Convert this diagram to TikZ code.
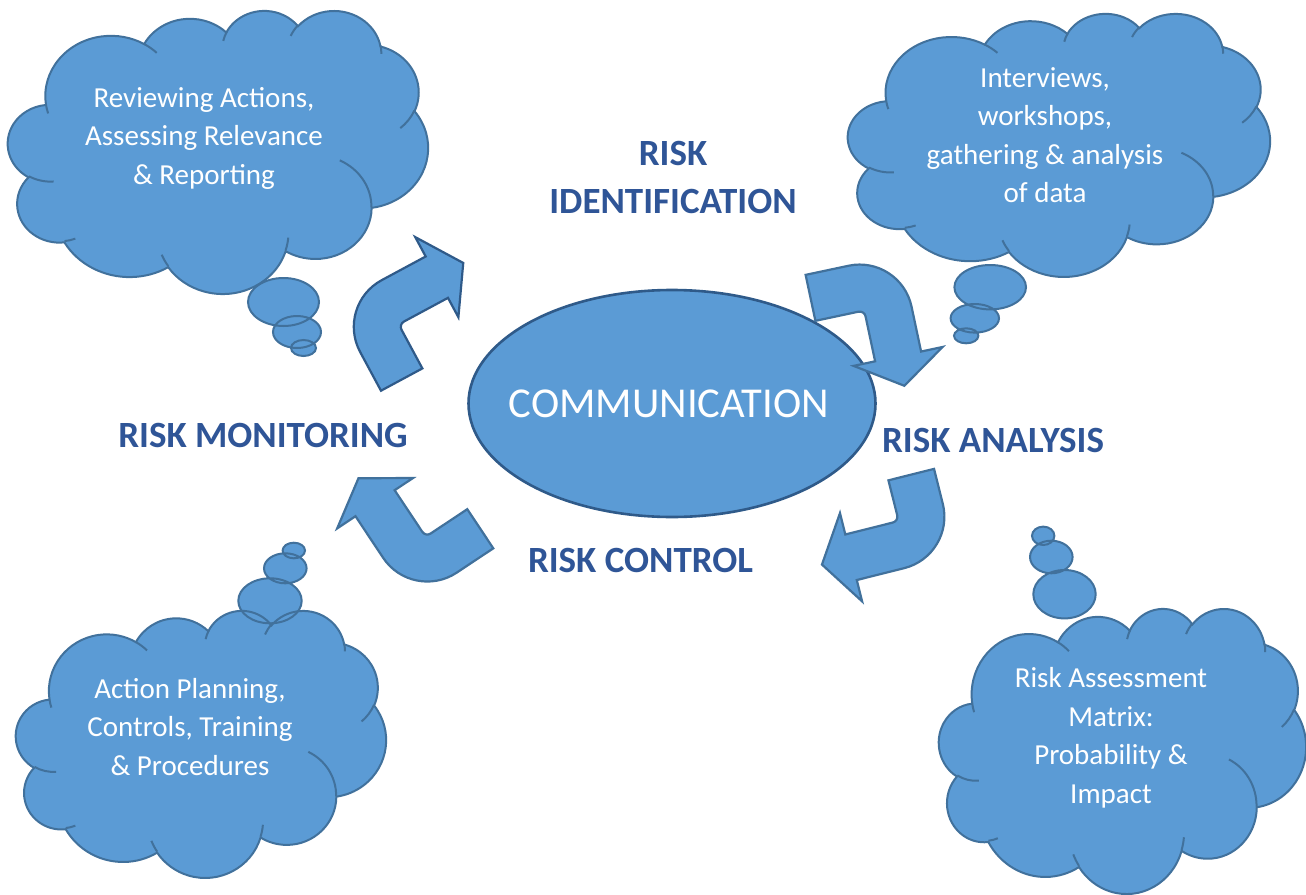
\documentclass[tikz,border=0pt]{standalone}
\usepackage{fontspec}
\usetikzlibrary{shapes.geometric}
\setmainfont{Carlito}
\definecolor{shapefill}{HTML}{5B9BD5}
\definecolor{shapeline}{HTML}{41719C}
\definecolor{deepline}{HTML}{2F5A89}
\definecolor{titleblue}{HTML}{2F5597}

% One elliptical arc of the cloud outline. The angles are directions seen
% from the centre (in degrees); they are turned into parametric angles here.
\newcommand\cloudarc[4]{%
  \pgfextra{%
    \pgfmathsetmacro\cloudstart{atan2((#1)*sin(#3),(#2)*cos(#3))}%
    \pgfmathsetmacro\cloudend{atan2((#1)*sin((#3)+(#4)),(#2)*cos((#3)+(#4)))}%
    \pgfmathsetmacro\cloudend{\cloudend<\cloudstart ? \cloudend+360 : \cloudend}%
    \xdef\cloudstartangle{\cloudstart}\xdef\cloudendangle{\cloudend}%
  }%
  arc[x radius=#1, y radius=#2, start angle=\cloudstartangle, end angle=\cloudendangle]}

% cloud outline in a 432 x 432 box, y pointing down
\newcommand\cloudmain{(39,143.70)
  \cloudarc{67.53}{91.90}{-190.48748}{123.78053}
  \cloudarc{53.33}{72.67}{-144.10238}{89.94523}
  \cloudarc{43.65}{59.45}{-145.80792}{99.72302}
  \cloudarc{48.57}{65.95}{-130.98607}{117.24173}
  \cloudarc{53.33}{72.73}{-78.70888}{109.02692}
  \cloudarc{67.75}{92.20}{-46.26725}{130.269}
  \cloudarc{57.85}{78.67}{0.62502}{114.03333}
  \cloudarc{67.52}{92.15}{22.4516}{115.17255}
  \cloudarc{77.20}{105.43}{66.24263}{75.71102}
  \cloudarc{43.60}{59.18}{-274.94208}{146.73557}
  \cloudarc{43.45}{59.45}{-246.8285}{152.51885}
  -- cycle}

% the short inner arcs between the puffs
\newcommand\cloudinner{%
  (46.93,261.77) \cloudarc{43.45}{59.45}{86.742}{26.4295}
  (69.28,348.99) \cloudarc{43.60}{59.18}{73.61047}{11.44747}
  (164.78,390.90) \cloudarc{67.52}{92.15}{137.62415}{14.0811}
  (288.27,347.51) \cloudarc{67.52}{92.15}{6.45327}{15.99835}
  (341.29,229.54) \cloudarc{57.85}{78.67}{-70.29235}{70.91737}
  (417.98,153.54) \cloudarc{53.33}{72.73}{30.31803}{27.7515}
  (383.24,54.26) \cloudarc{48.57}{65.95}{-13.74433}{14.8589}
  (290.78,39.52) \cloudarc{48.57}{65.95}{-149.18145}{18.19537}
  (221.41,47.20) \cloudarc{43.65}{59.45}{-163.49427}{17.68635}
  (140.00,51.92) \cloudarc{67.53}{91.90}{-66.70695}{12.31935}
  (41.27,157.89) \cloudarc{67.53}{91.90}{157.65435}{11.85817}}

\tikzset{
  cloudbg/.style={fill=shapefill},
  cloudedge/.style={draw=shapeline, line width=2pt},
  arrowbody/.style={fill=shapefill, draw=#1, line width=2.2pt, line join=miter},
  arrowbody/.default=shapeline,
  steplabel/.style={font=\bfseries\fontsize{37}{48}\selectfont, text=titleblue,
    inner sep=0pt, align=center},
  cloudtext/.style={font=\fontsize{29}{38.5}\selectfont, text=white,
    inner sep=0pt, align=center},
}

% cloud body: x, y of the top left corner, width, height
\newcommand\cloudfill[4]{%
  \begin{scope}[shift={(#1,#2)}, xscale=#3/432, yscale=#4/432]
    \fill[cloudbg] \cloudmain;
  \end{scope}}
\newcommand\cloudline[4]{%
  \begin{scope}[shift={(#1,#2)}, xscale=#3/432, yscale=#4/432]
    \draw[cloudedge] \cloudmain;
    \draw[cloudedge] \cloudinner;
  \end{scope}}

% bent arrow: origin x, origin y, rotation, tail length, head position, line colour
\newcommand\bentarrow[6]{%
  \begin{scope}[shift={(#1,#2)}, rotate=#3]
    \filldraw[arrowbody=#6] (0,#4) -- (47,#4) -- (47,53)
      arc[start angle=180, end angle=270, radius=6] -- (#5,47) -- (#5,69)
      -- ({#5+30},23.5) -- (#5,-22) -- (#5,0) -- (53,0)
      arc[start angle=270, end angle=180, radius=53] -- cycle;
  \end{scope}}

% thought bubbles of each cloud
\def\tailreview{(283.5,302) ellipse [x radius=35.5, y radius=24]
  (297,332) ellipse [x radius=24, y radius=16]
  (303.5,348) ellipse [x radius=12.5, y radius=8]}
\def\tailinterview{(990.2,287.2) ellipse [x radius=35.8, y radius=22.2]
  (974.8,318.3) ellipse [x radius=24.2, y radius=14.3]
  (966.2,335.8) ellipse [x radius=12.2, y radius=7.5]}
\def\tailaction{(270,600.8) ellipse [x radius=31.7, y radius=22.5]
  (285.3,568.3) ellipse [x radius=21.3, y radius=15]
  (293.8,550.5) ellipse [x radius=11.2, y radius=7.8]}
\def\tailmatrix{(1064.5,594.2) ellipse [x radius=31.2, y radius=24.2]
  (1051.3,557) ellipse [x radius=21.3, y radius=16.3]
  (1043.2,535.8) ellipse [x radius=11.2, y radius=9.2]}

\begin{document}
\begin{tikzpicture}[x=1pt, y=-1pt]
\useasboundingbox[fill=white] (0,0) rectangle (1306,894);

% thought clouds
\cloudfill{8}{10}{420}{283}
\fill[cloudbg] \tailreview;
\cloudline{8}{10}{420}{283}
\draw[cloudedge] \tailreview;

\cloudfill{848}{13}{422}{263}
\fill[cloudbg] \tailinterview;
\cloudline{848}{13}{422}{263}
\draw[cloudedge] \tailinterview;

\cloudfill{16}{610}{370}{267}
\fill[cloudbg] \tailaction;
\cloudline{16}{610}{370}{267}
\draw[cloudedge] \tailaction;

\cloudfill{939}{608}{367}{285}
\fill[cloudbg] \tailmatrix;
\cloudline{939}{608}{367}{285}
\draw[cloudedge] \tailmatrix;

% centre
\node[ellipse, draw=deepline, line width=2.6pt, fill=shapefill,
  minimum width=407pt, minimum height=227pt, inner sep=0pt,
  text=white, font=\fontsize{42.6}{50}\selectfont] (comm) at (672,403.5)
  {\makebox[0pt]{\hspace*{-6pt}COMMUNICATION}};

% cycle arrows
\bentarrow{335}{305.3}{28.3}{97}{103}{deepline}
\bentarrow{900.5}{254.7}{-78}{97}{99}{shapeline}
\bentarrow{955.7}{555.2}{194.1}{89}{102}{shapeline}
\bentarrow{412.5}{602}{123.6}{97}{103}{shapeline}

% stage names
\node[steplabel] (ident) at (673,177) {RISK\\IDENTIFICATION};
\node[steplabel] (analysis) at (993,440) {RISK ANALYSIS};
\node[steplabel] (control) at (640.5,560) {RISK CONTROL};
\node[steplabel] (monitor) at (263,435) {RISK MONITORING};

% cloud texts
\node[cloudtext] (review) at (204,138) {Reviewing Actions,\\Assessing Relevance\\\& Reporting};
\node[cloudtext] (interview) at (1045,135) {Interviews,\\workshops,\\gathering \& analysis\\of data};
\node[cloudtext] (action) at (190,727) {Action Planning,\\Controls, Training\\\& Procedures};
\node[cloudtext] (matrix) at (1111,738) {Risk Assessment\\Matrix:\\Probability \&\\Impact};
\end{tikzpicture}
\end{document}
